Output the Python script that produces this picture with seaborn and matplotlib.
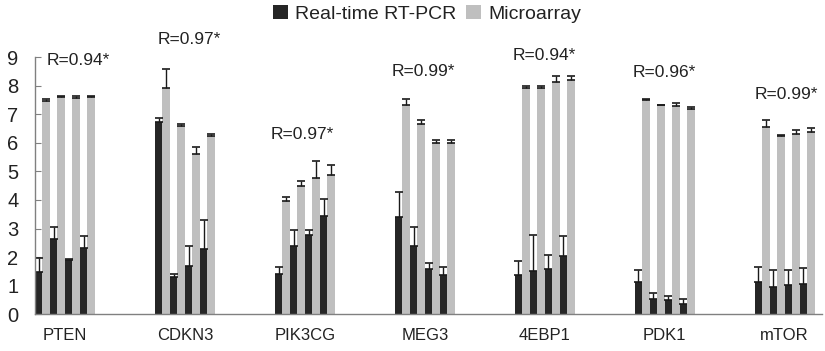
import pandas as pd
import matplotlib
matplotlib.use("Agg")
import matplotlib.pyplot as plt
import seaborn as sns

genes = ["PTEN", "CDKN3", "PIK3CG", "MEG3", "4EBP1", "PDK1", "mTOR"]
r_labels = ["R=0.94*", "R=0.97*", "R=0.97*", "R=0.99*", "R=0.94*", "R=0.96*", "R=0.99*"]

# 4 samples per gene
pcr_vals = [
    [1.47, 2.63, 1.90, 2.30],
    [6.74, 1.31, 1.69, 2.27],
    [1.41, 2.37, 2.78, 3.45],
    [3.42, 2.39, 1.57, 1.37],
    [1.37, 1.52, 1.57, 2.02],
    [1.11, 0.54, 0.49, 0.35],
    [1.11, 0.96, 1.02, 1.06],
]
pcr_err = [
    [0.51, 0.41, 0.03, 0.42],
    [0.14, 0.10, 0.68, 1.04],
    [0.25, 0.58, 0.17, 0.60],
    [0.85, 0.65, 0.21, 0.27],
    [0.49, 1.25, 0.49, 0.70],
    [0.44, 0.19, 0.14, 0.19],
    [0.54, 0.59, 0.53, 0.57],
]
array_vals = [
    [7.47, 7.62, 7.58, 7.62],
    [7.94, 6.59, 5.63, 6.26],
    [3.96, 4.48, 4.77, 4.89],
    [7.35, 6.68, 6.00, 6.00],
    [7.94, 7.94, 8.14, 8.21],
    [7.50, 7.32, 7.29, 7.20],
    [6.56, 6.24, 6.30, 6.38],
]
array_err = [
    [0.08, 0.02, 0.06, 0.02],
    [0.64, 0.06, 0.23, 0.04],
    [0.14, 0.17, 0.61, 0.33],
    [0.20, 0.14, 0.12, 0.12],
    [0.05, 0.05, 0.20, 0.14],
    [0.03, 0.03, 0.10, 0.07],
    [0.26, 0.04, 0.17, 0.13],
]

methods = ["Real-time RT-PCR", "Microarray"]
colors = ["#262626", "#bfbfbf"]

# layout: group spacing / label placement
group_step = 8
r_label_dx = [0.9, 0.3, -0.2, -0.1, 0.0, 0.0, 0.1]
r_label_y = [8.9, 9.63, 6.29, 8.52, 9.07, 8.49, 7.7]

rows = []
err_lookup = {}
for gi, g in enumerate(genes):
    for si in range(4):
        pos = gi * group_step + si
        rows.append({"pos": pos, "method": methods[0], "value": pcr_vals[gi][si]})
        rows.append({"pos": pos, "method": methods[1], "value": array_vals[gi][si]})
        err_lookup[(methods[0], pos)] = pcr_err[gi][si]
        err_lookup[(methods[1], pos)] = array_err[gi][si]
df = pd.DataFrame(rows)

sns.set_style("white")
plt.rcParams["font.family"] = ["Liberation Sans", "DejaVu Sans"]
text_color = "#222222"

fig = plt.figure(figsize=(8.25, 3.51), dpi=100)
ax = fig.add_axes([0.0424, 0.1054, 0.954, 0.7308])

sns.barplot(
    data=df,
    x="pos",
    y="value",
    hue="method",
    hue_order=methods,
    palette=colors,
    native_scale=True,
    dodge=True,
    width=1.0,
    saturation=1,
    errorbar=None,
    linewidth=0,
    ax=ax,
)

# upper-only error bars on top of each bar
for container, m in zip(ax.containers, methods):
    xs, hs, es = [], [], []
    for bar in container:
        cx = bar.get_x() + bar.get_width() / 2
        xs.append(cx)
        hs.append(bar.get_height())
        es.append(err_lookup[(m, int(round(cx)))])
    ax.errorbar(xs, hs, yerr=[[0] * len(es), es], fmt="none", ecolor="#1a1a1a",
                elinewidth=1, capsize=3, capthick=1.2)

for gi, lab in enumerate(r_labels):
    ax.text(gi * group_step + 1.5 + r_label_dx[gi], r_label_y[gi], lab,
            ha="center", va="center", fontsize=12.5, color=text_color, clip_on=False)

ax.set_xlim(-0.5, 52)
ax.set_ylim(0, 9)
ax.set_yticks(range(10))
ax.set_xticks([gi * group_step + 1.5 for gi in range(len(genes))])
ax.set_xticklabels(genes)
ax.set_xlabel("")
ax.set_ylabel("")

for side in ["top", "right"]:
    ax.spines[side].set_visible(False)
for side in ["left", "bottom"]:
    ax.spines[side].set_color("#808080")
    ax.spines[side].set_linewidth(1)

ax.tick_params(axis="y", direction="in", length=4, color="#808080", pad=12,
               labelsize=14.5, labelcolor=text_color, left=True)
ax.tick_params(axis="x", length=0, pad=10, labelsize=12, labelcolor=text_color)

sns.move_legend(ax, "upper center", bbox_to_anchor=(0.518, 1.035),
                bbox_transform=fig.transFigure, ncol=2, frameon=False, title=None,
                fontsize=14, handlelength=0.75, handleheight=0.75,
                handletextpad=0.4, columnspacing=0.5)
for t in ax.get_legend().get_texts():
    t.set_color(text_color)

fig.savefig("out.png", dpi=100)
plt.close(fig)
